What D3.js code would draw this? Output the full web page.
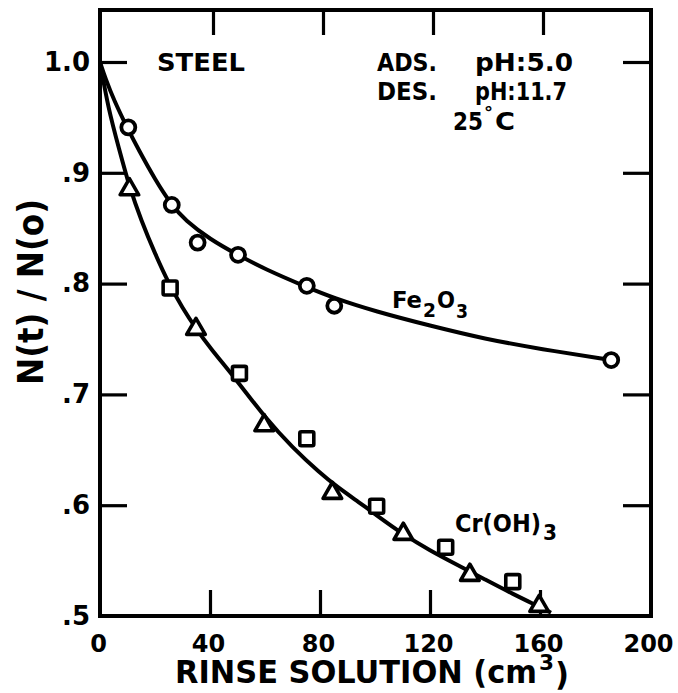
<!DOCTYPE html>
<html>
<head>
<meta charset="utf-8">
<script src="https://cdn.jsdelivr.net/npm/d3@7"></script>
<style>
  html, body { margin: 0; padding: 0; background: #fff; }
  svg { display: block; }
  text { font-family: "DejaVu Sans", "Liberation Sans", sans-serif; fill: #000; }
</style>
</head>
<body>
<svg id="chart" width="678" height="693"></svg>
<script>
// Axis ticks and labels
const xTickValues = [0, 40, 80, 120, 160, 200];
const xInnerTicks = [40, 80, 120, 160];
const yTickValues = [0.5, 0.6, 0.7, 0.8, 0.9, 1.0];
const yTickLabels = [".5", ".6", ".7", ".8", ".9", "1.0"];
const yInnerTicks = [0.6, 0.7, 0.8, 0.9, 1.0];

// Fe2O3 measurements (circles)
const feX = [10.3, 26.1, 35.5, 50.2, 75.2, 85.2, 185.9];
const feY = [0.941, 0.871, 0.837, 0.826, 0.798, 0.780, 0.731];

// Cr(OH)3 measurements: triangles and squares
const crTriX = [10.7, 34.9, 59.7, 84.5, 110.3, 134.5, 159.7];
const crTriY = [0.885, 0.759, 0.672, 0.611, 0.574, 0.537, 0.509];
const crSqX = [25.5, 50.7, 75.2, 100.6, 125.7, 150.1];
const crSqY = [0.796, 0.719, 0.660, 0.599, 0.562, 0.531];

// Hand-drawn trend curves
const feFitX = [0, 2, 5, 10, 14, 20, 26, 31, 40, 50, 60, 75, 85, 100, 120, 140, 160, 186];
const feFitY = [1.0, 0.985, 0.966, 0.940, 0.921, 0.894, 0.871, 0.857, 0.840, 0.826, 0.813, 0.797, 0.787, 0.775, 0.762, 0.750, 0.741, 0.731];
const crFitX = [0, 3, 7, 10.7, 15, 20, 25, 30, 35, 40, 50, 60, 70, 80, 86, 94.5, 100, 110, 120, 130, 140, 150, 160, 164];
const crFitY = [1.0, 0.958, 0.921, 0.887, 0.857, 0.827, 0.800, 0.778, 0.759, 0.742, 0.712, 0.679, 0.652, 0.629, 0.617, 0.602, 0.592, 0.574, 0.559, 0.546, 0.533, 0.520, 0.508, 0.503];

const svg = d3.select("#chart");

const x = d3.scaleLinear().domain([0, 200]).range([100, 650]);
const y = d3.scaleLinear().domain([0.5, 1.0]).range([616, 62]);
const frame = { left: 100, right: 651, top: 10, bottom: 616 };

// Inner tick marks on all four sides
function styleTicks(g) {
  g.select(".domain").remove();
  g.selectAll(".tick line").attr("stroke", "#000").attr("stroke-width", 3.2);
  g.selectAll(".tick text").remove();
}
svg.append("g").attr("transform", `translate(0,${frame.bottom})`)
  .call(d3.axisBottom(x).tickValues(xInnerTicks).tickSize(-26)).call(styleTicks);
svg.append("g").attr("transform", `translate(3,${frame.top})`)
  .call(d3.axisTop(x).tickValues(xInnerTicks).tickSize(-25)).call(styleTicks);
svg.append("g").attr("transform", `translate(${frame.left},0)`)
  .call(d3.axisLeft(y).tickValues(yInnerTicks).tickSize(-27)).call(styleTicks);
svg.append("g").attr("transform", `translate(${frame.right},0)`)
  .call(d3.axisRight(y).tickValues(yInnerTicks).tickSize(-28)).call(styleTicks);

// Frame
svg.append("rect")
  .attr("x", frame.left).attr("y", frame.top)
  .attr("width", frame.right - frame.left).attr("height", frame.bottom - frame.top)
  .attr("fill", "none").attr("stroke", "#000").attr("stroke-width", 4);

// Tick labels
const xLab = svg.append("g").attr("transform", `translate(-2,${frame.bottom})`)
  .call(d3.axisBottom(x).tickValues(xTickValues).tickSize(0).tickPadding(19).tickFormat(d3.format("d")));
xLab.select(".domain").remove();
xLab.selectAll("text").attr("font-size", 24).attr("font-weight", "bold")
  .attr("font-family", "'DejaVu Sans', sans-serif").attr("fill", "#000");

const yLab = svg.append("g").attr("transform", `translate(${frame.left},0)`)
  .call(d3.axisLeft(y).tickValues(yTickValues).tickSize(0).tickPadding(10)
    .tickFormat((d, i) => yTickLabels[i]));
yLab.select(".domain").remove();
yLab.selectAll("text").attr("font-size", 26).attr("font-weight", "bold")
  .attr("font-family", "'DejaVu Sans', sans-serif").attr("fill", "#000");

// Curves
const line = d3.line().x(d => x(d[0])).y(d => y(d[1])).curve(d3.curveBasis);
svg.append("path").datum(d3.zip(feFitX, feFitY)).attr("d", line)
  .attr("fill", "none").attr("stroke", "#000").attr("stroke-width", 4);
svg.append("path").datum(d3.zip(crFitX, crFitY)).attr("d", line)
  .attr("fill", "none").attr("stroke", "#000").attr("stroke-width", 4);

// Markers
svg.append("g").selectAll("circle").data(d3.zip(feX, feY)).join("circle")
  .attr("cx", d => x(d[0])).attr("cy", d => y(d[1])).attr("r", 7)
  .attr("fill", "#fff").attr("stroke", "#000").attr("stroke-width", 3.8);

svg.append("g").selectAll("rect").data(d3.zip(crSqX, crSqY)).join("rect")
  .attr("x", d => x(d[0]) - 7).attr("y", d => y(d[1]) - 7)
  .attr("width", 14).attr("height", 14).attr("rx", 1.5)
  .attr("fill", "#fff").attr("stroke", "#000").attr("stroke-width", 3.6);

const tri = d3.symbol().type(d3.symbolTriangle).size(150);
svg.append("g").selectAll("path").data(d3.zip(crTriX, crTriY)).join("path")
  .attr("d", tri)
  .attr("transform", d => `translate(${x(d[0])},${y(d[1])})`)
  .attr("fill", "#fff").attr("stroke", "#000").attr("stroke-width", 3.6)
  .attr("stroke-linejoin", "round");

// Annotations
function label(txt, px, py, w, size) {
  return svg.append("text").attr("x", px).attr("y", py)
    .attr("font-size", size).attr("font-weight", "bold")
    .attr("textLength", w).attr("lengthAdjust", "spacingAndGlyphs")
    .text(txt);
}
label("STEEL", 157, 71, 88, 25);
label("ADS.", 377, 71, 60, 25);
label("pH:5.0", 475, 71, 98, 25);
label("DES.", 377, 100, 60, 25);
label("pH:11.7", 475, 100, 92, 25);

label("25", 453, 130, 30, 25);
svg.append("text").attr("x", 484).attr("y", 119).attr("font-size", 18)
  .attr("font-weight", "bold").text("°");
label("C", 495, 130, 20, 25);

label("Fe", 392, 308, 30, 23);
label("2", 423, 317, 13, 20);
label("O", 437, 308, 18, 23);
label("3", 456, 318, 12, 20);

label("Cr(OH)", 455, 532, 86, 25);
label("3", 543, 540, 14, 22);

// Axis titles
label("RINSE SOLUTION (cm", 175, 683, 362, 32);
label("3", 539, 670, 15, 22);
label(")", 555, 685, 14, 32);

svg.append("text")
  .attr("transform", "translate(43,292) rotate(-90)")
  .attr("text-anchor", "middle")
  .attr("font-size", 36).attr("font-weight", "bold")
  .attr("textLength", 186).attr("lengthAdjust", "spacingAndGlyphs")
  .text("N(t) / N(o)");
</script>
</body>
</html>
